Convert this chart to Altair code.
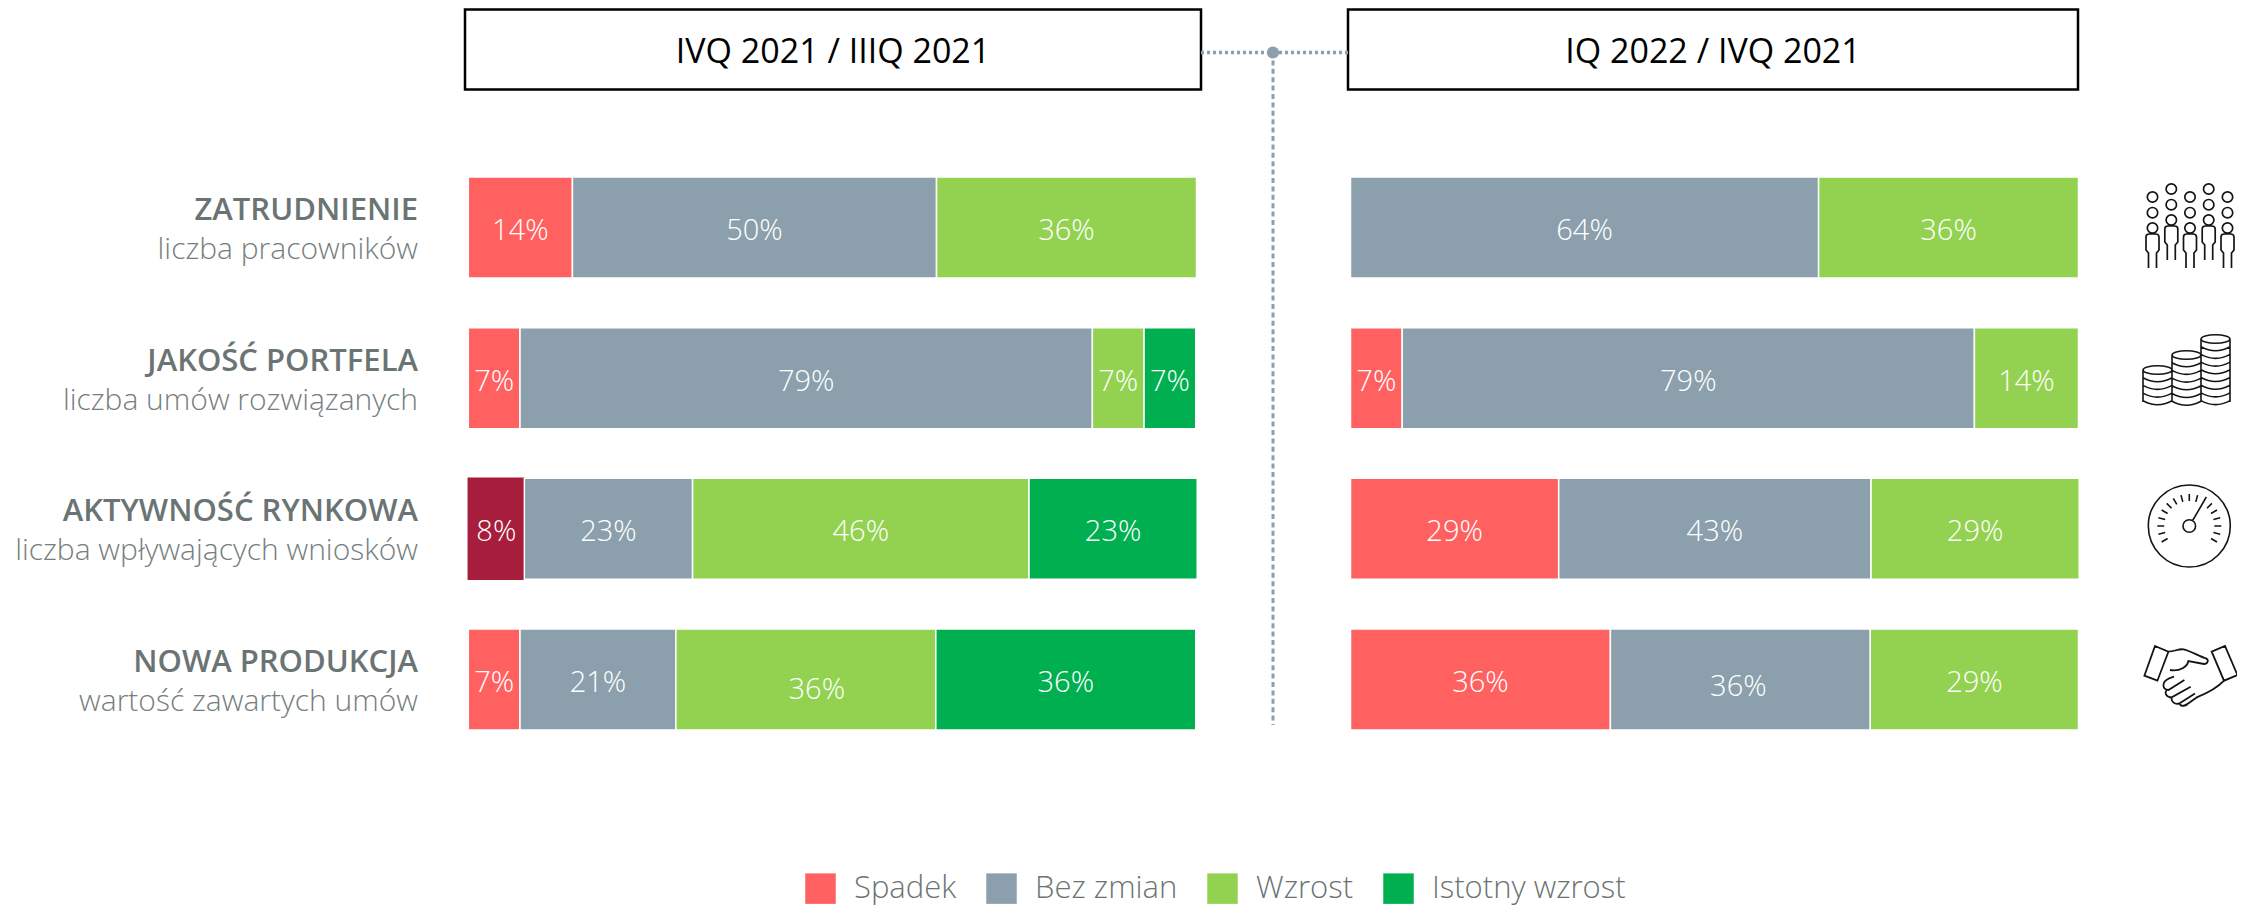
import math
import re
import altair as alt
import pandas as pd

rows = ["ZATRUDNIENIE", "JAKOŚĆ PORTFELA", "AKTYWNOŚĆ RYNKOWA", "NOWA PRODUKCJA"]
subs = ["liczba pracowników", "liczba umów rozwiązanych", "liczba wpływających wniosków", "wartość zawartych umów"]
statuses = ["Istotny spadek", "Spadek", "Bez zmian", "Wzrost", "Istotny wzrost"]
colors = ["#A61E3C", "#FF6161", "#8B9FAC", "#92D250", "#00B050"]
legend_items = ["Spadek", "Bez zmian", "Wzrost", "Istotny wzrost"]

# columns: one value per status, per row
left_values = {
    "ZATRUDNIENIE":      [0, .143, .500, .357, 0],
    "JAKOŚĆ PORTFELA":   [0, .071, .786, .071, .071],
    "AKTYWNOŚĆ RYNKOWA": [.077, 0, .231, .462, .231],
    "NOWA PRODUKCJA":    [0, .071, .214, .357, .357],
}
right_values = {
    "ZATRUDNIENIE":      [0, 0, .643, .357, 0],
    "JAKOŚĆ PORTFELA":   [0, .071, .786, .143, 0],
    "AKTYWNOŚĆ RYNKOWA": [0, .286, .429, .286, 0],
    "NOWA PRODUKCJA":    [0, .357, .357, .286, 0],
}
left_header = "IVQ 2021 / IIIQ 2021"
right_header = "IQ 2022 / IVQ 2021"

FONT = "Open Sans"
GREY = "#6B7474"
W, H = 2229, 899


def frame(values):
    recs = []
    for r in rows:
        for i, s in enumerate(statuses):
            if values[r][i] > 0:
                recs.append({"row": r, "status": s, "ord": i, "value": values[r][i]})
    return pd.DataFrame(recs)


yscale = alt.Y("row:N", axis=None, sort=rows,
               scale=alt.Scale(domain=rows, range=[169, 722], paddingInner=0.33, paddingOuter=0))
cscale = alt.Color("status:N", scale=alt.Scale(domain=statuses, range=colors), title=None,
                   legend=alt.Legend(values=legend_items, orient="none", legendX=797, legendY=865,
                                     direction="horizontal", columns=4, symbolType="square",
                                     symbolSize=930, symbolStrokeWidth=0, symbolOpacity=1,
                                     labelFont=FONT, labelFontWeight=300, labelFontSize=31, labelColor=GREY,
                                     labelOffset=18, columnPadding=29, labelLimit=400, padding=0))


def panel(values, rng, nudge):
    xs = alt.Scale(domain=[0, 1], range=rng, nice=False, zero=False)
    base = (alt.Chart(frame(values))
            .transform_stack(stack="value", as_=["s", "e"], groupby=["row"], sort=[alt.SortField("ord")])
            .transform_calculate(mid="(datum.s+datum.e)/2"))
    bars = base.mark_bar(strokeWidth=1.5).encode(
        x=alt.X("s:Q", scale=xs, axis=None), x2="e:Q", y=yscale, color=cscale,
        stroke=alt.condition("datum.status=='Istotny spadek'", alt.value("#A61E3C"), alt.value("white")))
    txt = dict(color="white", font=FONT, fontWeight=300, fontSize=29, baseline="middle")
    is_n = "datum.row=='NOWA PRODUKCJA' && datum.status=='%s'" % nudge[0]
    labels = base.transform_filter("!(" + is_n + ")").mark_text(dy=3.5, **txt).encode(
        x=alt.X("mid:Q", scale=xs, axis=None), y=yscale, text=alt.Text("value:Q", format=".0%"))
    moved = base.transform_filter(is_n).mark_text(dx=nudge[1], dy=nudge[2], **txt).encode(
        x=alt.X("mid:Q", scale=xs, axis=None), y=yscale, text=alt.Text("value:Q", format=".0%"))
    return [bars, labels, moved]


one = alt.Data(values=[{"k": 1}])


def header(text, x0, x1):
    box = alt.Chart(one).mark_rect(fill="white", stroke="black", strokeWidth=2.5).encode(
        x=alt.value(x0), x2=alt.value(x1), y=alt.value(1.5), y2=alt.value(81.5))
    t = alt.Chart(one).mark_text(text=text, font=FONT, fontSize=34, color="black", baseline="middle").encode(
        x=alt.value((x0 + x1) / 2), y=alt.value(45))
    return [box, t]


def rule(x0, x1, y0, y1, width, dash):
    return alt.Chart(one).mark_rule(color="#8B9FAC", strokeWidth=width, strokeDash=dash).encode(
        x=alt.value(x0), x2=alt.value(x1), y=alt.value(y0), y2=alt.value(y1))


conn = [rule(1193, 1340, 44.5, 44.5, 3.5, [3, 3]), rule(1265, 1265, 44, 717, 3, [5, 3.4]),
        alt.Chart(one).mark_point(filled=True, opacity=1, color="#8B9FAC", size=150).encode(
            x=alt.value(1265), y=alt.value(44.5))]

lab_df = pd.DataFrame({"row": rows, "sub": subs})
lab_b = alt.Chart(lab_df).mark_text(align="right", baseline="middle", font=FONT, fontWeight=600, fontSize=31,
                                    color=GREY, dy=-16.5).encode(x=alt.value(410), y=yscale, text="row:N")
lab_s = alt.Chart(lab_df).mark_text(align="right", baseline="middle", font=FONT, fontWeight=300, fontSize=30,
                                    color="#767E7E", dy=22.5).encode(x=alt.value(410), y=yscale, text="sub:N")


# ---- outline icons, pixel-sized paths (size=4 gives a scale of 1)
def circ(x, y, r, ry=None):
    ry = ry or r
    return f"M{x-r},{y}A{r},{ry} 0 1 0 {x+r},{y}A{r},{ry} 0 1 0 {x-r},{y}"


def people():
    p = ""
    for cx, dy in [(-37.5, 0), (-18.7, -8), (0, 0), (18.7, -8), (37.5, 0)]:
        for hy in (-31, -15.3, 0):
            p += circ(cx, hy + dy, 5.2)
        p += (f"M{cx-4},{40+dy}L{cx-4},{25+dy}L{cx-6.5},{22+dy}L{cx-6.5},{9+dy}Q{cx-6.5},{6+dy} {cx-3},{6+dy}"
              f"L{cx+3},{6+dy}Q{cx+6.5},{6+dy} {cx+6.5},{9+dy}L{cx+6.5},{22+dy}L{cx+4},{25+dy}L{cx+4},{40+dy}")
    return p


def coins():
    p = ""
    for cx, top in [(-29, -2), (0, -17), (29, -33)]:
        p += circ(cx, top, 14.5, 4.3)
        bottom = 30
        p += f"M{cx-14.5},{top}L{cx-14.5},{bottom}M{cx+14.5},{top}L{cx+14.5},{bottom}"
        y = top + 7.7
        while y <= bottom + 0.5:
            p += f"M{cx-14.5},{y}Q{cx},{y+8} {cx+14.5},{y}"
            y += 7.7
    return p


def gauge():
    p = circ(0, 0, 41) + circ(0, 0, 6.3)
    for a in range(-120, 121, 15):
        if a == 30:
            continue
        s, c = math.sin(math.radians(a)), math.cos(math.radians(a))
        p += f"M{25*s:.1f},{-25*c:.1f}L{32*s:.1f},{-32*c:.1f}"
    p += "M3.3,-5.3L17,-29"
    return p


def hands():
    segs = ["M165,558L205,575L172,662L133,647Z", "M335,575L375,558L412,645L372,662Z",
            "M203,575C225,575 235,565 250,568C270,572 300,590 318,595C328,600 322,612 312,612L265,603C262,620 240,635 210,630",
            "M372,662C355,680 320,700 290,712C275,722 262,735 248,738",
            "M222,650C205,655 190,665 190,675C190,685 198,690 205,690L253,660",
            "M200,690C192,700 200,712 215,712L272,680",
            "M215,712C212,725 225,735 238,730L285,700", "M238,730C240,738 250,740 262,733"]
    out = []
    for s in segs:
        res = ""
        vals = []
        for tok in re.findall(r"[A-Z]|-?[\d.]+", s):
            if tok.isalpha():
                res += tok
                vals = []
            else:
                vals.append(float(tok))
                if len(vals) % 2 == 1:
                    res += f"{(vals[-1]-272)/3:.1f},"
                else:
                    res += f"{(vals[-1]-650)/3:.1f} "
        out.append(res)
    return "".join(out)


def icon(path, x, y, sw):
    return alt.Chart(one).mark_point(shape=path, size=4, filled=False, opacity=1, stroke="#141414", strokeWidth=sw).encode(
        x=alt.value(x), y=alt.value(y))


icons = [icon(people(), 2182, 220, 1.7), icon(coins(), 2178.5, 364, 1.6),
         icon(gauge(), 2181.3, 518, 1.6), icon(hands(), 2182.7, 668.7, 1.8)]

layers = (header(left_header, 457, 1193) + header(right_header, 1340, 2070) + conn + [lab_b, lab_s]
          + panel(left_values, [460.3, 1188.5], ("Wzrost", 11, 10))
          + panel(right_values, [1342.5, 2070.5], ("Bez zmian", -2, 7)) + icons)

chart = (alt.layer(*layers).resolve_scale(x="independent")
         .properties(width=W, height=H, padding=0, autosize=alt.AutoSizeParams(type="none"))
         .configure_view(stroke=None))

chart.save("out.html", embed_options={"renderer": "svg", "actions": False})
